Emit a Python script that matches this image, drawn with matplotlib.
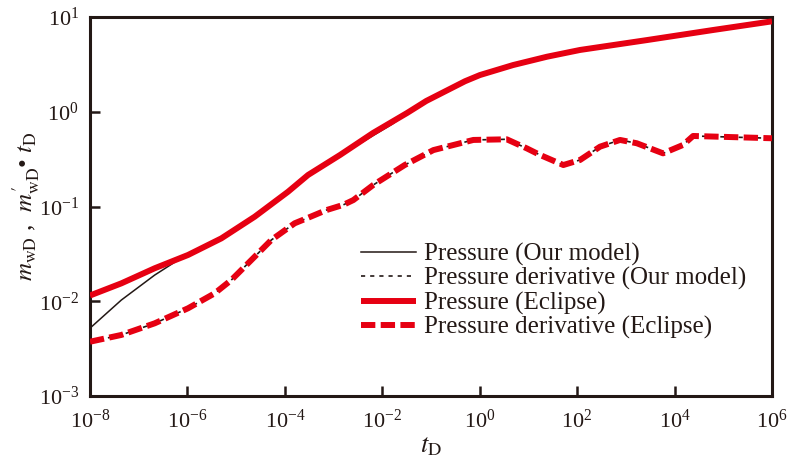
import matplotlib
matplotlib.use("Agg")
import matplotlib.pyplot as plt
import numpy as np

plt.rcParams["font.family"] = ["Liberation Serif", "DejaVu Serif"]
plt.rcParams["mathtext.fontset"] = "stix"

# Dimensionless time and responses
t_eclipse = [1e-8, 4.4e-8, 2.13e-7, 1.03e-6, 4.97e-6, 2.40e-5, 1.16e-4, 2.99e-4,
             1.36e-3, 6.46e-3, 3.22e-2, 0.08, 0.213, 0.5, 1.01, 4.83, 24.1, 115,
             2720, 6.17e4, 1e6]
p_eclipse = [0.0115, 0.01545, 0.0223, 0.0308, 0.0461, 0.078, 0.143, 0.215,
             0.350, 0.597, 0.970, 1.30, 1.68, 2.10, 2.44, 3.11, 3.81, 4.49,
             5.71, 7.29, 9.0]

t_model = [1e-8, 4.4e-8, 2.13e-7, 6.4e-7, 1.03e-6, 4.97e-6, 2.40e-5, 1.16e-4, 2.99e-4,
           1.36e-3, 6.46e-3, 1.6e-2, 3.22e-2, 0.08, 0.213, 0.5, 1.01, 4.83, 24.1, 115,
           2720, 6.17e4, 1e6]
p_model = [0.0052, 0.0103, 0.0189, 0.0272, 0.0308, 0.0461, 0.078, 0.143, 0.215,
           0.345, 0.56, 0.74, 0.95, 1.30, 1.68, 2.10, 2.44, 3.11, 3.81, 4.49,
           5.71, 7.29, 9.0]

t_deriv = [1e-8, 4.4e-8, 2.13e-7, 1.03e-6, 3.63e-6, 7.96e-6, 2.05e-5, 5.27e-5,
           1.59e-4, 2.81e-4, 7.2e-4, 1.58e-3, 2.55e-3, 6.55e-3, 2.89e-2, 0.112,
           0.74, 3.59, 9.23, 17.3, 52.1, 115, 295, 759, 1675, 5800, 1.49e4,
           2.40e4, 2.21e5, 1e6]
d_deriv = [0.00374, 0.00441, 0.00585, 0.00843, 0.01213, 0.01675, 0.0272, 0.0443,
           0.0665, 0.075, 0.0918, 0.104, 0.117, 0.169, 0.274, 0.394,
           0.504, 0.512, 0.411, 0.350, 0.274, 0.310, 0.428, 0.504, 0.465, 0.364, 0.446,
           0.555, 0.537, 0.525]

RED = "#e60012"
INK = "#231815"

fig = plt.figure(figsize=(7.9, 4.63), dpi=100)
ax = fig.add_axes([90 / 790, 1 - 396 / 463, 682 / 790, 379 / 463])

l1, = ax.plot(t_model, p_model, color=INK, lw=1.1, zorder=2)
l2, = ax.plot(t_deriv, d_deriv, color=INK, lw=1.2, ls=(0, (2.5, 3)), zorder=2)
l3, = ax.plot(t_eclipse, p_eclipse, color=RED, lw=4.3, solid_capstyle="butt", zorder=3)
l4, = ax.plot(t_deriv, d_deriv, color=RED, lw=4.3, ls=(0, (2.4, 0.9)), zorder=3)

ax.set_xscale("log")
ax.set_yscale("log")
ax.set_xlim(1e-8, 1e6)
ax.set_ylim(1e-3, 1e1)
ax.set_xticks([10.0 ** k for k in range(-8, 7, 2)])
ax.set_yticks([10.0 ** k for k in range(-3, 2)])
ax.minorticks_off()

for s in ax.spines.values():
    s.set_linewidth(2.2)
    s.set_color(INK)
ax.tick_params(direction="in", length=7, width=1.8, color=INK, labelcolor=INK,
               labelsize=16, top=False, right=False)
ax.tick_params(axis="x", pad=10)
ax.tick_params(axis="y", pad=8)

ax.set_xlabel(r"$t_{\mathrm{D}}$", fontsize=19, color=INK, labelpad=2)
ax.set_ylabel(r"$m_{\mathrm{wD}}$ ,  $m^{\prime}_{\mathrm{wD}}$• $t_{\mathrm{D}}$",
              fontsize=18, color=INK)
ax.yaxis.set_label_coords(-0.07, 0.5)

ax.legend([l1, l2, l3, l4],
          ["Pressure (Our model)", "Pressure derivative (Our model)",
           "Pressure (Eclipse)", "Pressure derivative (Eclipse)"],
          loc="upper left", bbox_to_anchor=(361 / 790, 1 - 243 / 463),
          bbox_transform=fig.transFigure, frameon=False, fontsize=18,
          handlelength=2.2, handletextpad=0.3, borderpad=0, borderaxespad=0,
          labelspacing=0.05, labelcolor=INK)

fig.savefig("out.png", dpi=100)
